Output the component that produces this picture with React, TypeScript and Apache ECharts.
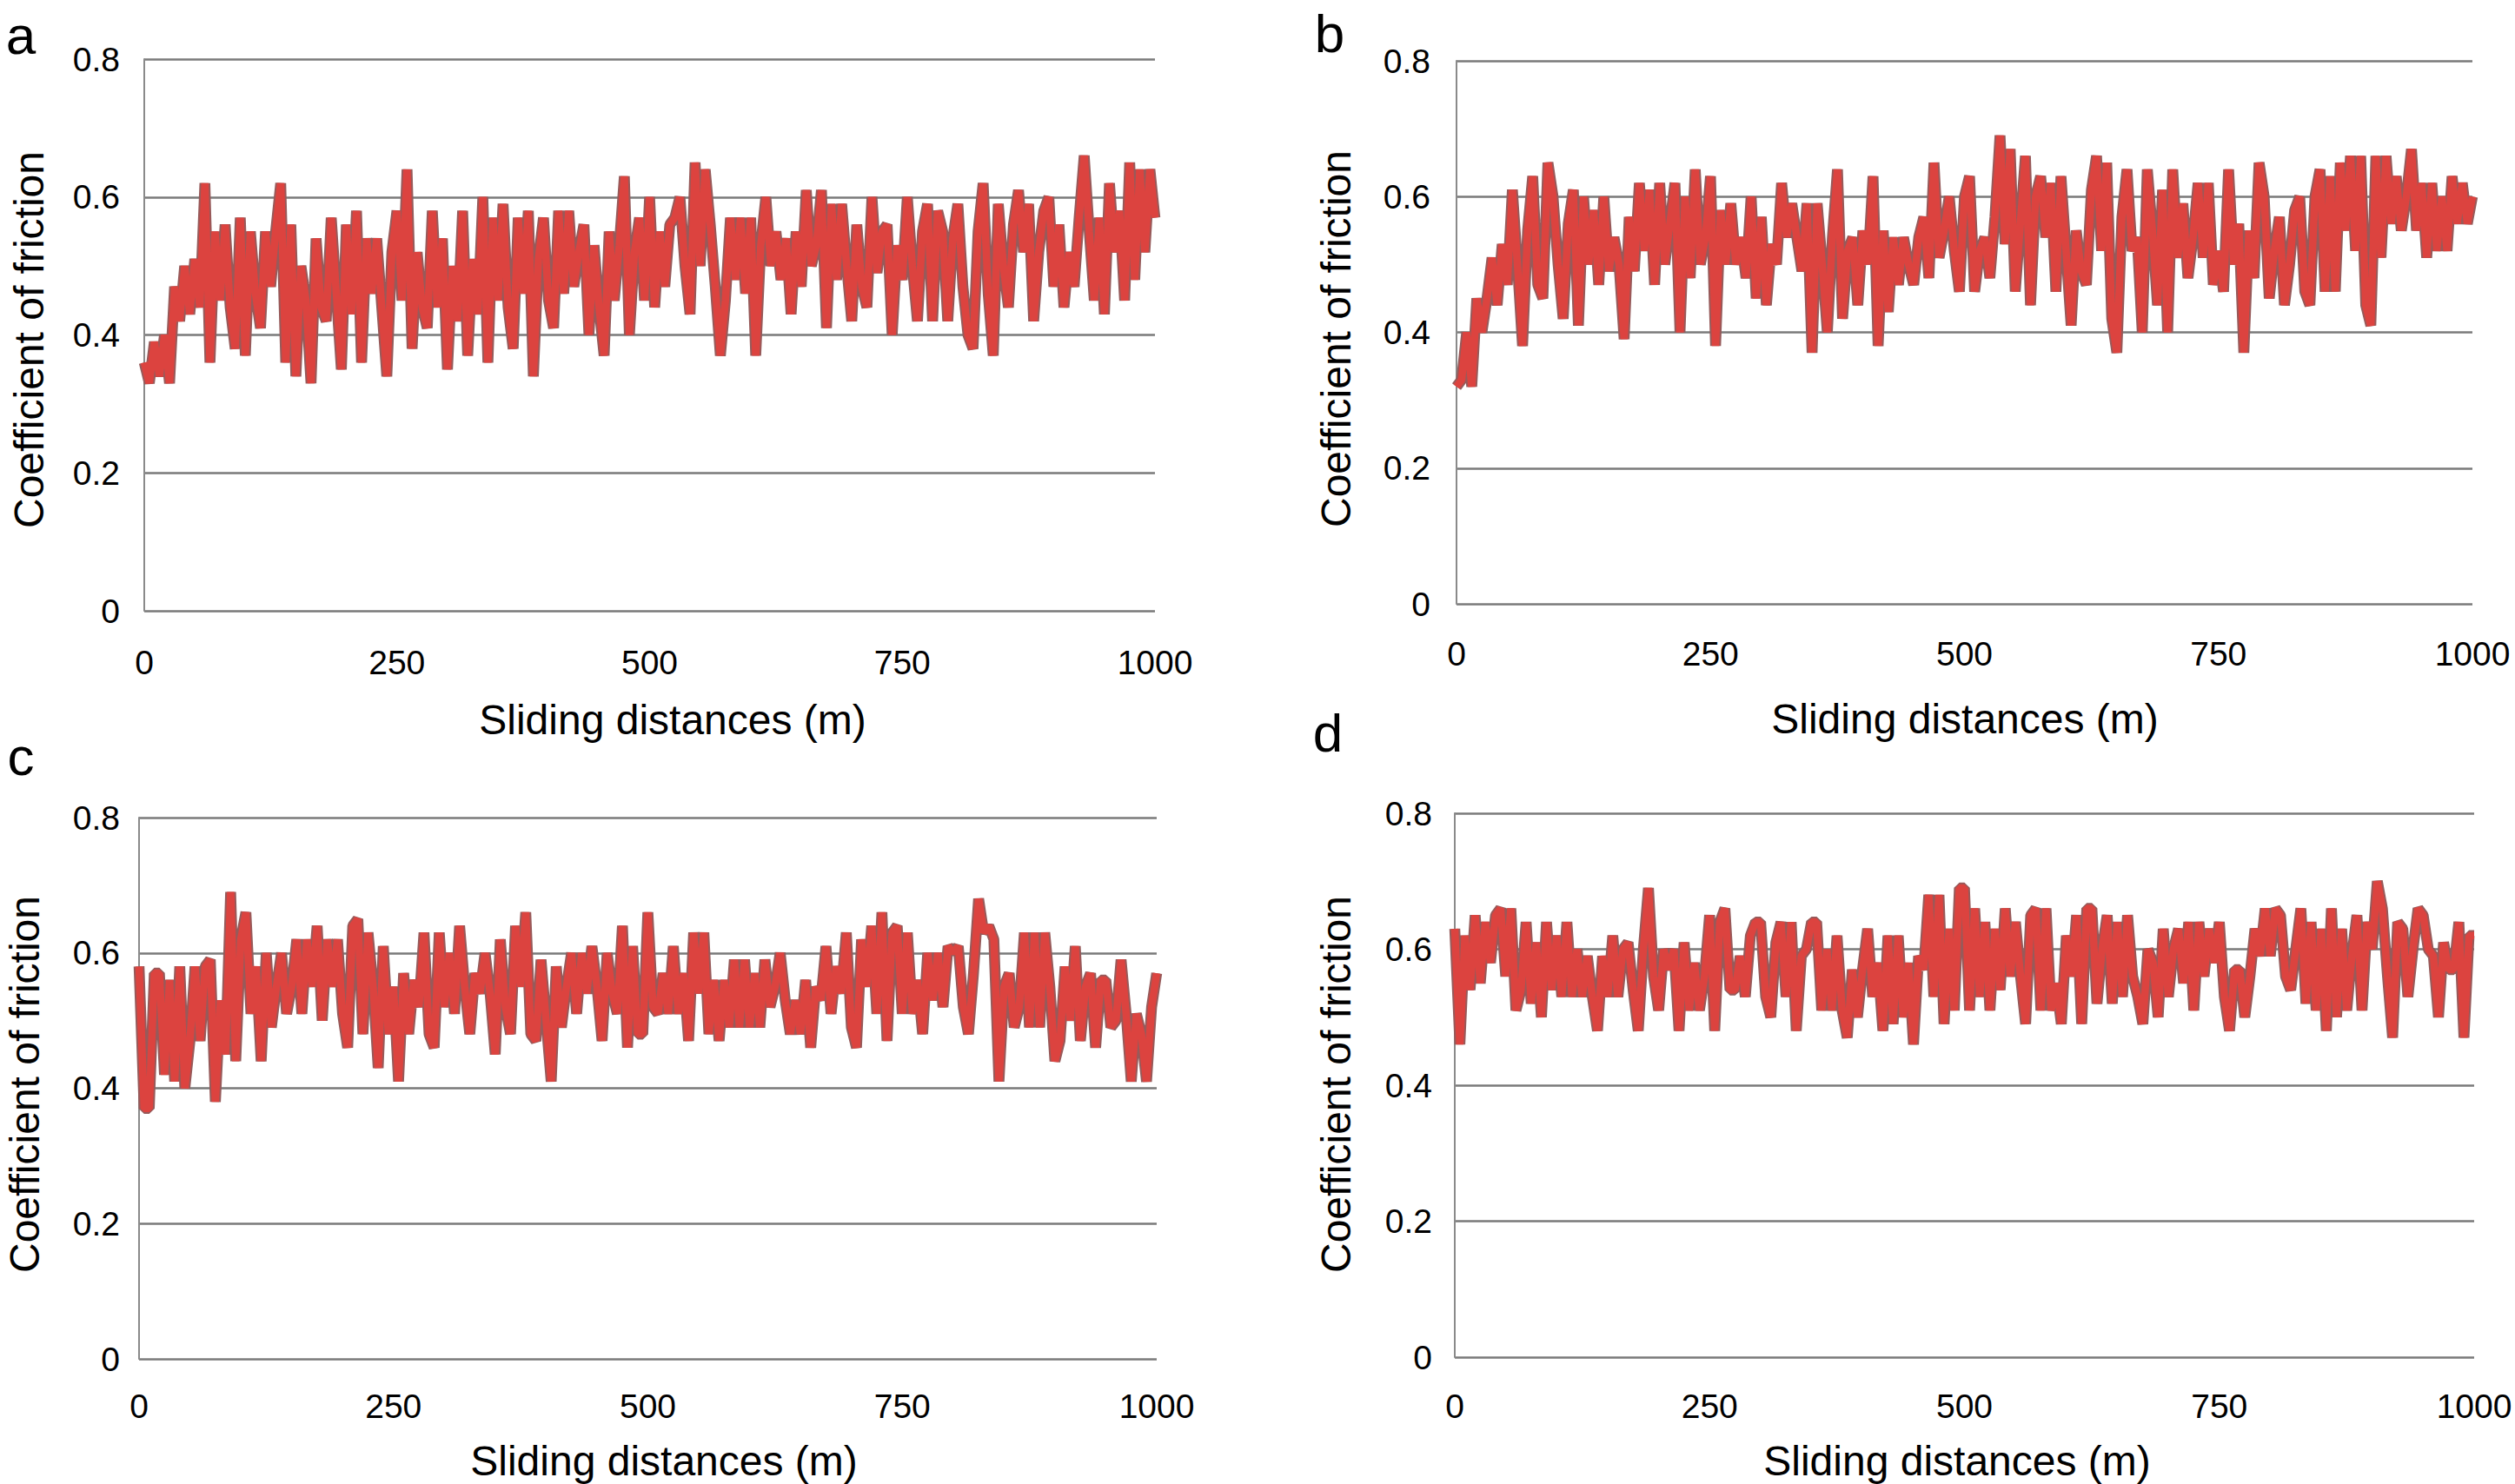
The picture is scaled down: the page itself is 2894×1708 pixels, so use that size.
import { useEffect, useRef } from 'react';
import * as echarts from 'echarts';

// sliding distance (m), one reading every 5 m
const distances = [
  0, 5, 10, 15, 20, 25, 30, 35, 40, 45, 50, 55, 60, 65, 70, 75, 80, 85, 90, 95,
  100, 105, 110, 115, 120, 125, 130, 135, 140, 145, 150, 155, 160, 165, 170, 175, 180, 185, 190, 195,
  200, 205, 210, 215, 220, 225, 230, 235, 240, 245, 250, 255, 260, 265, 270, 275, 280, 285, 290, 295,
  300, 305, 310, 315, 320, 325, 330, 335, 340, 345, 350, 355, 360, 365, 370, 375, 380, 385, 390, 395,
  400, 405, 410, 415, 420, 425, 430, 435, 440, 445, 450, 455, 460, 465, 470, 475, 480, 485, 490, 495,
  500, 505, 510, 515, 520, 525, 530, 535, 540, 545, 550, 555, 560, 565, 570, 575, 580, 585, 590, 595,
  600, 605, 610, 615, 620, 625, 630, 635, 640, 645, 650, 655, 660, 665, 670, 675, 680, 685, 690, 695,
  700, 705, 710, 715, 720, 725, 730, 735, 740, 745, 750, 755, 760, 765, 770, 775, 780, 785, 790, 795,
  800, 805, 810, 815, 820, 825, 830, 835, 840, 845, 850, 855, 860, 865, 870, 875, 880, 885, 890, 895,
  900, 905, 910, 915, 920, 925, 930, 935, 940, 945, 950, 955, 960, 965, 970, 975, 980, 985, 990, 995,
  1000,
];

const frictionA = [
  0.36, 0.33, 0.39, 0.34, 0.40, 0.33, 0.47, 0.42, 0.50, 0.43,
  0.51, 0.44, 0.62, 0.36, 0.55, 0.45, 0.56, 0.44, 0.38, 0.57,
  0.37, 0.55, 0.46, 0.41, 0.55, 0.47, 0.55, 0.62, 0.36, 0.56,
  0.34, 0.50, 0.45, 0.33, 0.54, 0.44, 0.42, 0.57, 0.46, 0.35,
  0.56, 0.43, 0.58, 0.36, 0.54, 0.46, 0.54, 0.44, 0.34, 0.52,
  0.58, 0.45, 0.64, 0.38, 0.52, 0.44, 0.41, 0.58, 0.44, 0.54,
  0.35, 0.50, 0.42, 0.58, 0.37, 0.51, 0.43, 0.60, 0.36, 0.57,
  0.45, 0.59, 0.44, 0.38, 0.57, 0.46, 0.58, 0.34, 0.51, 0.57,
  0.45, 0.41, 0.58, 0.46, 0.58, 0.47, 0.52, 0.56, 0.40, 0.53,
  0.44, 0.37, 0.55, 0.45, 0.53, 0.63, 0.40, 0.52, 0.57, 0.45,
  0.60, 0.44, 0.55, 0.47, 0.56, 0.57, 0.60, 0.50, 0.43, 0.65,
  0.50, 0.64, 0.56, 0.47, 0.37, 0.45, 0.57, 0.48, 0.57, 0.46,
  0.57, 0.37, 0.53, 0.60, 0.50, 0.55, 0.48, 0.54, 0.43, 0.55,
  0.47, 0.61, 0.50, 0.53, 0.61, 0.41, 0.59, 0.48, 0.59, 0.50,
  0.42, 0.56, 0.47, 0.44, 0.60, 0.49, 0.55, 0.56, 0.40, 0.53,
  0.48, 0.60, 0.50, 0.42, 0.55, 0.59, 0.42, 0.58, 0.55, 0.42,
  0.54, 0.59, 0.47, 0.40, 0.38, 0.55, 0.62, 0.46, 0.37, 0.59,
  0.50, 0.44, 0.56, 0.61, 0.52, 0.59, 0.42, 0.52, 0.58, 0.60,
  0.47, 0.56, 0.44, 0.52, 0.47, 0.57, 0.66, 0.55, 0.45, 0.57,
  0.43, 0.62, 0.52, 0.58, 0.45, 0.65, 0.48, 0.64, 0.52, 0.64,
  0.57,
];

const frictionB = [
  0.32, 0.33, 0.40, 0.32, 0.45, 0.40, 0.45, 0.51, 0.44, 0.53,
  0.47, 0.61, 0.50, 0.38, 0.55, 0.63, 0.47, 0.45, 0.65, 0.60,
  0.50, 0.42, 0.56, 0.61, 0.41, 0.60, 0.50, 0.58, 0.47, 0.60,
  0.49, 0.54, 0.50, 0.39, 0.57, 0.49, 0.62, 0.52, 0.61, 0.47,
  0.62, 0.50, 0.56, 0.62, 0.40, 0.60, 0.48, 0.64, 0.50, 0.54,
  0.63, 0.38, 0.58, 0.50, 0.59, 0.50, 0.54, 0.48, 0.60, 0.45,
  0.57, 0.44, 0.53, 0.50, 0.62, 0.54, 0.59, 0.54, 0.49, 0.59,
  0.37, 0.59, 0.50, 0.40, 0.54, 0.64, 0.42, 0.52, 0.54, 0.44,
  0.55, 0.50, 0.63, 0.38, 0.55, 0.43, 0.54, 0.47, 0.54, 0.50,
  0.47, 0.54, 0.57, 0.48, 0.65, 0.51, 0.55, 0.60, 0.52, 0.46,
  0.60, 0.63, 0.46, 0.52, 0.54, 0.48, 0.57, 0.69, 0.53, 0.67,
  0.46, 0.56, 0.66, 0.44, 0.60, 0.63, 0.54, 0.62, 0.46, 0.63,
  0.52, 0.41, 0.55, 0.49, 0.47, 0.61, 0.66, 0.52, 0.65, 0.42,
  0.37, 0.57, 0.64, 0.52, 0.54, 0.40, 0.64, 0.55, 0.44, 0.61,
  0.40, 0.64, 0.51, 0.59, 0.48, 0.54, 0.62, 0.51, 0.62, 0.47,
  0.52, 0.46, 0.64, 0.50, 0.56, 0.37, 0.55, 0.48, 0.65, 0.60,
  0.45, 0.52, 0.57, 0.44, 0.50, 0.58, 0.60, 0.46, 0.44, 0.60,
  0.64, 0.46, 0.63, 0.46, 0.65, 0.55, 0.66, 0.52, 0.66, 0.44,
  0.41, 0.66, 0.51, 0.66, 0.56, 0.63, 0.55, 0.60, 0.67, 0.55,
  0.62, 0.51, 0.62, 0.52, 0.60, 0.52, 0.63, 0.56, 0.62, 0.56,
  0.60,
];

const frictionC = [
  0.58, 0.37, 0.37, 0.57, 0.57, 0.42, 0.56, 0.41, 0.58, 0.40,
  0.47, 0.58, 0.47, 0.58, 0.59, 0.38, 0.53, 0.45, 0.69, 0.44,
  0.62, 0.66, 0.51, 0.58, 0.44, 0.60, 0.49, 0.55, 0.60, 0.51,
  0.55, 0.62, 0.51, 0.62, 0.55, 0.64, 0.50, 0.62, 0.55, 0.62,
  0.51, 0.46, 0.64, 0.65, 0.48, 0.63, 0.55, 0.43, 0.61, 0.48,
  0.55, 0.41, 0.57, 0.48, 0.56, 0.52, 0.63, 0.48, 0.46, 0.63,
  0.52, 0.60, 0.51, 0.64, 0.55, 0.48, 0.57, 0.54, 0.60, 0.54,
  0.45, 0.62, 0.52, 0.48, 0.64, 0.55, 0.66, 0.48, 0.47, 0.59,
  0.50, 0.41, 0.58, 0.49, 0.55, 0.60, 0.51, 0.60, 0.54, 0.61,
  0.55, 0.47, 0.60, 0.54, 0.51, 0.64, 0.46, 0.61, 0.48, 0.48,
  0.66, 0.52, 0.51, 0.57, 0.51, 0.61, 0.51, 0.57, 0.47, 0.63,
  0.54, 0.63, 0.48, 0.56, 0.47, 0.56, 0.49, 0.59, 0.49, 0.59,
  0.49, 0.57, 0.49, 0.59, 0.52, 0.55, 0.60, 0.53, 0.48, 0.53,
  0.48, 0.56, 0.46, 0.55, 0.53, 0.61, 0.51, 0.58, 0.54, 0.63,
  0.49, 0.46, 0.62, 0.55, 0.64, 0.51, 0.66, 0.47, 0.63, 0.64,
  0.51, 0.63, 0.51, 0.56, 0.48, 0.60, 0.53, 0.60, 0.52, 0.61,
  0.60, 0.61, 0.52, 0.48, 0.57, 0.68, 0.63, 0.64, 0.62, 0.41,
  0.55, 0.57, 0.49, 0.52, 0.63, 0.49, 0.63, 0.49, 0.63, 0.55,
  0.44, 0.47, 0.58, 0.50, 0.61, 0.47, 0.55, 0.57, 0.46, 0.56,
  0.56, 0.49, 0.50, 0.59, 0.51, 0.41, 0.51, 0.48, 0.41, 0.52,
  0.57,
];

const frictionD = [
  0.63, 0.46, 0.62, 0.54, 0.65, 0.55, 0.64, 0.58, 0.65, 0.66,
  0.56, 0.66, 0.51, 0.54, 0.64, 0.52, 0.61, 0.50, 0.64, 0.54,
  0.62, 0.53, 0.64, 0.53, 0.60, 0.53, 0.59, 0.53, 0.48, 0.59,
  0.53, 0.62, 0.53, 0.60, 0.61, 0.54, 0.48, 0.60, 0.69, 0.56,
  0.51, 0.60, 0.57, 0.60, 0.48, 0.61, 0.51, 0.58, 0.51, 0.56,
  0.65, 0.48, 0.64, 0.66, 0.54, 0.54, 0.59, 0.53, 0.62, 0.64,
  0.64, 0.53, 0.50, 0.61, 0.64, 0.53, 0.64, 0.48, 0.59, 0.60,
  0.64, 0.64, 0.51, 0.60, 0.51, 0.62, 0.51, 0.47, 0.57, 0.50,
  0.57, 0.63, 0.53, 0.58, 0.48, 0.62, 0.49, 0.62, 0.50, 0.58,
  0.46, 0.59, 0.57, 0.68, 0.53, 0.68, 0.49, 0.63, 0.51, 0.69,
  0.69, 0.51, 0.66, 0.53, 0.64, 0.51, 0.63, 0.54, 0.66, 0.56,
  0.64, 0.56, 0.49, 0.65, 0.66, 0.51, 0.66, 0.51, 0.55, 0.49,
  0.62, 0.56, 0.65, 0.49, 0.66, 0.66, 0.52, 0.60, 0.65, 0.52,
  0.64, 0.53, 0.65, 0.56, 0.53, 0.49, 0.60, 0.58, 0.50, 0.63,
  0.53, 0.60, 0.63, 0.55, 0.64, 0.51, 0.64, 0.56, 0.63, 0.58,
  0.64, 0.53, 0.48, 0.57, 0.57, 0.50, 0.56, 0.63, 0.59, 0.66,
  0.59, 0.66, 0.65, 0.56, 0.54, 0.60, 0.66, 0.52, 0.64, 0.51,
  0.63, 0.48, 0.66, 0.50, 0.63, 0.51, 0.59, 0.65, 0.51, 0.64,
  0.60, 0.70, 0.66, 0.56, 0.47, 0.64, 0.63, 0.53, 0.60, 0.66,
  0.65, 0.60, 0.59, 0.50, 0.61, 0.57, 0.57, 0.64, 0.47, 0.62,
  0.62,
];

const panelLetters = ['a', 'b', 'c', 'd'];
const xAxisTitle = 'Sliding distances (m)';
const yAxisTitle = 'Coefficient of friction';

// layout of the four panels, in page pixels
const layout = [
  { grid: { left: 166, top: 68, width: 1163, height: 635 }, letter: [24, 40], xName: [774, 828], yName: [33, 391], xGap: 40, yGap: 28 },
  { grid: { left: 1676, top: 70, width: 1169, height: 625 }, letter: [1530, 38], xName: [2261, 827], yName: [1537, 390], xGap: 38, yGap: 30 },
  { grid: { left: 160, top: 941, width: 1171, height: 623 }, letter: [24, 870], xName: [764, 1681], yName: [28, 1248], xGap: 35, yGap: 22 },
  { grid: { left: 1674, top: 936, width: 1173, height: 626 }, letter: [1528, 843], xName: [2252, 1681], yName: [1537, 1248], xGap: 37, yGap: 26 },
];

const FONT = '"Liberation Sans", Arial, Helvetica, sans-serif';

export default function App() {
  const chartRef = useRef<HTMLDivElement>(null);

  useEffect(() => {
    if (!chartRef.current) return;
    const chart = echarts.init(chartRef.current, undefined, { renderer: 'svg' });

    const seriesValues = [frictionA, frictionB, frictionC, frictionD];

    const grids = layout.map(p => ({ ...p.grid, containLabel: false }));

    const xAxes = layout.map((p, i) => ({
      type: 'value',
      gridIndex: i,
      min: 0,
      max: 1000,
      interval: 250,
      axisLine: { show: false },
      axisTick: { show: false },
      splitLine: { show: false },
      axisLabel: {
        color: '#000',
        fontSize: 39,
        fontFamily: FONT,
        margin: p.xGap,
        formatter: (v: number) => String(v),
      },
    }));

    const yAxes = layout.map((p, i) => ({
      type: 'value',
      gridIndex: i,
      min: 0,
      max: 0.8,
      interval: 0.2,
      axisLine: { show: true, lineStyle: { color: '#8a8a8a', width: 2 } },
      axisTick: { show: false },
      splitLine: { show: true, lineStyle: { color: '#7a7a7a', width: 2.5 } },
      axisLabel: { color: '#000', fontSize: 39, fontFamily: FONT, margin: p.yGap },
    }));

    const series: any[] = [];
    seriesValues.forEach((vals, i) => {
      const pts = distances.map((d, k) => [d, vals[k]]);
      // darker outline underneath, bright red on top
      series.push({
        type: 'line',
        xAxisIndex: i,
        yAxisIndex: i,
        data: pts,
        showSymbol: false,
        lineStyle: { color: '#975a5a', width: 12.5, join: 'bevel', cap: 'butt' },
        z: 3,
      });
      series.push({
        type: 'line',
        xAxisIndex: i,
        yAxisIndex: i,
        data: pts,
        showSymbol: false,
        lineStyle: { color: '#dc433f', width: 8.5, join: 'bevel', cap: 'butt' },
        z: 4,
      });
    });

    const graphic: any[] = [];
    layout.forEach((p, i) => {
      graphic.push({
        type: 'text',
        x: p.letter[0],
        y: p.letter[1],
        style: { text: panelLetters[i], fill: '#000', fontSize: 62, fontFamily: FONT, align: 'center', verticalAlign: 'middle' },
      });
      graphic.push({
        type: 'text',
        x: p.xName[0],
        y: p.xName[1],
        style: { text: xAxisTitle, fill: '#000', fontSize: 48, fontFamily: FONT, align: 'center', verticalAlign: 'middle' },
      });
      graphic.push({
        type: 'text',
        x: p.yName[0],
        y: p.yName[1],
        rotation: Math.PI / 2,
        style: { text: yAxisTitle, fill: '#000', fontSize: 48, fontFamily: FONT, align: 'center', verticalAlign: 'middle' },
      });
    });

    chart.setOption({
      animation: false,
      backgroundColor: '#fff',
      grid: grids,
      xAxis: xAxes,
      yAxis: yAxes,
      series,
      graphic,
    });

    const handleResize = () => chart.resize();
    window.addEventListener('resize', handleResize);

    return () => {
      window.removeEventListener('resize', handleResize);
      chart.dispose();
    };
  }, []);

  return (
    <div
      ref={chartRef}
      style={{ position: 'fixed', left: 0, top: 0, width: 2894, height: 1708, background: '#fff' }}
    />
  );
}
